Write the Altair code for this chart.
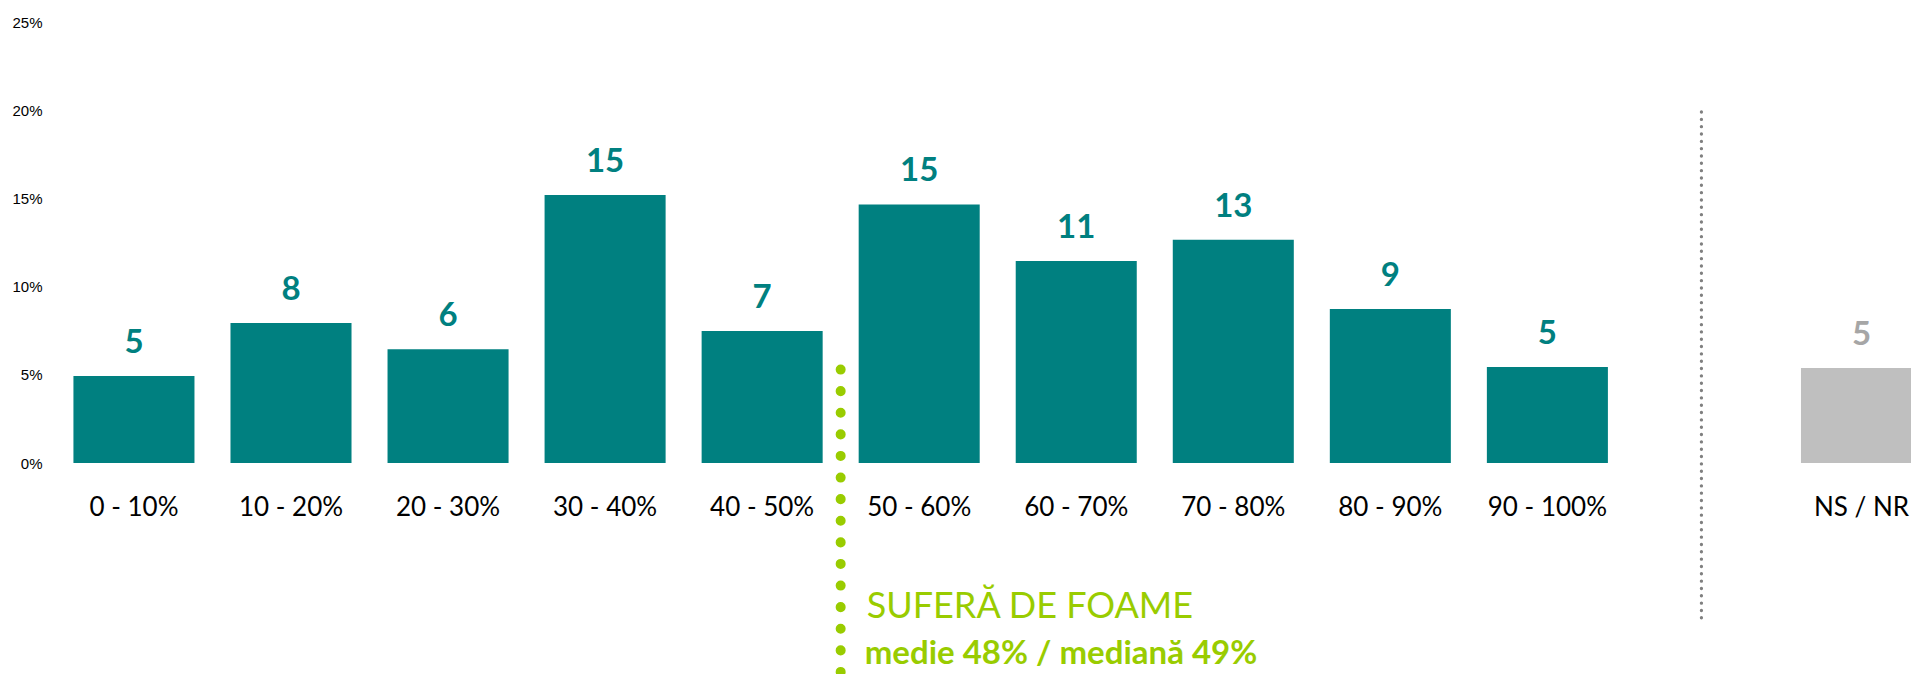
import altair as alt
import pandas as pd

# ---- data ----
categories = ["0 - 10%", "10 - 20%", "20 - 30%", "30 - 40%", "40 - 50%",
              "50 - 60%", "60 - 70%", "70 - 80%", "80 - 90%", "90 - 100%", "NS / NR"]
values = [4.93, 7.94, 6.45, 15.19, 7.48, 14.66, 11.45, 12.65, 8.73, 5.44, 5.39]
labels = ["5", "8", "6", "15", "7", "15", "11", "13", "9", "5", "5"]
groups = ["scale"] * 10 + ["ns"]
spacer = " "
y_ticks = [0, 5, 10, 15, 20, 25]
title_text = "SUFERĂ DE FOAME"
stats_text = "medie 48% / mediană 49%"

domain = categories[:10] + [spacer] + categories[10:]
df = pd.DataFrame({"cat": categories, "value": values, "label": labels, "group": groups})

TEAL = "#008080"
GREEN = "#99CC00"

xscale = alt.Scale(domain=domain, paddingInner=0.2293, paddingOuter=0.0555, align=1, range=[0, 1866])
yscale = alt.Scale(domain=[0, 25], nice=False, zero=False)

x_enc = alt.X("cat:N", scale=xscale, sort=domain,
              axis=alt.Axis(title=None, labelAngle=0, labelFont="Lato", labelFontSize=26,
                            labelColor="#000000", ticks=False, tickSize=0, domain=False,
                            grid=False, labelPadding=31, labelOverlap=False, labelBound=False))
y_enc = alt.Y("value:Q", scale=yscale,
              axis=alt.Axis(title=None, values=y_ticks, labelExpr="datum.value + '%'",
                            labelFont="Liberation Sans", labelFontSize=15, labelColor="#000000",
                            ticks=False, tickSize=0, domain=False, grid=False, labelPadding=14))

bars = alt.Chart(df).mark_bar(clip=True).encode(
    x=x_enc, y=y_enc,
    color=alt.Color("group:N", scale=alt.Scale(domain=["scale", "ns"], range=[TEAL, "#BFBFBF"]), legend=None),
)

value_text = alt.Chart(df).mark_text(
    dy=-23, baseline="alphabetic", align="center", font="Lato", fontSize=33, fontWeight="bold"
).encode(
    x=alt.X("cat:N", scale=xscale), y=alt.Y("value:Q", scale=yscale), text="label:N",
    color=alt.Color("group:N", scale=alt.Scale(domain=["scale", "ns"], range=[TEAL, "#A6A6A6"]), legend=None),
)

green_rule = alt.Chart(df).transform_filter(alt.datum.cat == "40 - 50%").mark_rule(
    color=GREEN, strokeWidth=10, strokeCap="round", strokeDash=[0.1, 21.5], xOffset=18
).encode(
    x=alt.X("cat:N", bandPosition=1),
    y=alt.Y(datum=5.3), y2=alt.Y2(datum=-13),
)

gray_rule = alt.Chart(df).transform_filter(alt.datum.cat == "NS / NR").mark_rule(
    color="#808080", strokeWidth=3.3, strokeCap="round", strokeDash=[0.1, 7.23], xOffset=-3
).encode(
    x=alt.X(datum=spacer, type="nominal"),
    y=alt.Y(datum=19.9), y2=alt.Y2(datum=-8.9),
)

title_mark = alt.Chart(df).transform_filter(alt.datum.cat == "50 - 60%").mark_text(
    align="left", baseline="alphabetic", font="Lato", fontSize=36, color=GREEN, dx=8
).encode(
    x=alt.X("cat:N", bandPosition=0), y=alt.Y(datum=-8.77), text=alt.value(title_text),
)

stats_mark = alt.Chart(df).transform_filter(alt.datum.cat == "50 - 60%").mark_text(
    align="left", baseline="alphabetic", font="Lato", fontSize=33, fontWeight="bold", color=GREEN, dx=6
).encode(
    x=alt.X("cat:N", bandPosition=0), y=alt.Y(datum=-11.4), text=alt.value(stats_text),
)

chart = alt.layer(bars, value_text, green_rule, gray_rule, title_mark, stats_mark).resolve_scale(
    color="independent"
).properties(
    width=1855, height=441,
    autosize=alt.AutoSizeParams(type="none"),
    padding={"left": 48, "top": 14, "right": 0, "bottom": 211},
    background="white",
).configure_view(stroke=None)

chart.save("out.html", embed_options={"renderer": "svg", "actions": False})
